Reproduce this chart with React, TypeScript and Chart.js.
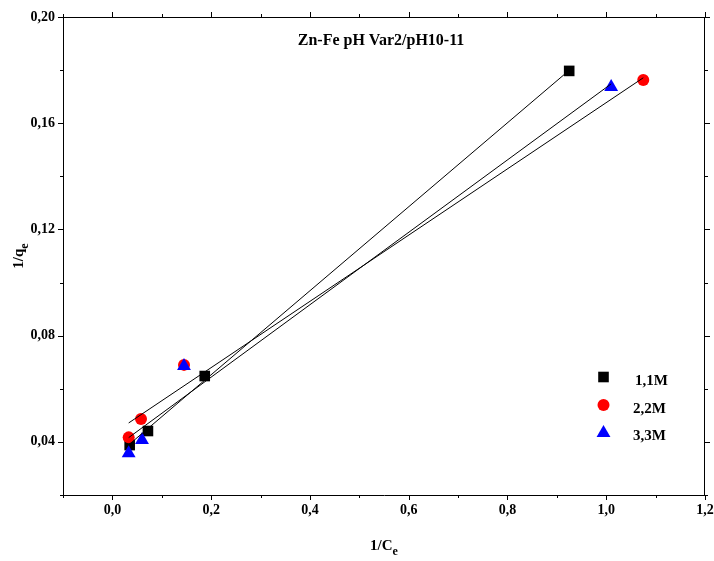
import React, { useEffect, useRef } from 'react';
import { Chart, registerables } from 'chart.js';

Chart.register(...registerables);

// Langmuir linearisation: 1/qe versus 1/Ce for three concentrations
const seriesNames = ['1,1M', '2,2M', '3,3M'];
const seriesColors = ['#000000', '#ff0000', '#0000ff'];
const seriesShapes = ['rect', 'circle', 'triangle'];

const invCe11 = [0.035, 0.072, 0.187, 0.925];
const invQe11 = [0.0388, 0.0441, 0.0648, 0.1797];
const invCe22 = [0.033, 0.058, 0.145, 1.075];
const invQe22 = [0.0417, 0.0486, 0.069, 0.1763];
const invCe33 = [0.033, 0.06, 0.145, 1.01];
const invQe33 = [0.0357, 0.0407, 0.0686, 0.1736];

const xMajorTicks = [0, 0.2, 0.4, 0.6, 0.8, 1.0, 1.2];
const xTickLabels = ['0,0', '0,2', '0,4', '0,6', '0,8', '1,0', '1,2'];
const yMajorTicks = [0.04, 0.08, 0.12, 0.16, 0.2];
const yTickLabels = ['0,04', '0,08', '0,12', '0,16', '0,20'];

const chartTitle = 'Zn-Fe pH Var2/pH10-11';
const FONT = '"Liberation Serif", "Times New Roman", serif';

function linearFit(xs: number[], ys: number[]) {
  const n = xs.length;
  const mx = xs.reduce((a, b) => a + b, 0) / n;
  const my = ys.reduce((a, b) => a + b, 0) / n;
  let sxx = 0;
  let sxy = 0;
  for (let i = 0; i < n; i++) {
    sxx += (xs[i] - mx) * (xs[i] - mx);
    sxy += (xs[i] - mx) * (ys[i] - my);
  }
  const slope = sxy / sxx;
  const icpt = my - slope * mx;
  const x0 = Math.min(...xs);
  const x1 = Math.max(...xs);
  return [
    { x: x0, y: icpt + slope * x0 },
    { x: x1, y: icpt + slope * x1 },
  ];
}

function labelFor(v: number, ticks: number[], labels: string[]) {
  const i = ticks.findIndex((t) => Math.abs(t - v) < 1e-6);
  return i >= 0 ? labels[i] : '';
}

function drawShape(ctx: CanvasRenderingContext2D, shape: string, x: number, y: number, r: number) {
  ctx.beginPath();
  if (shape === 'rect') {
    const s = Math.SQRT1_2 * r;
    ctx.rect(x - s, y - s, 2 * s, 2 * s);
  } else if (shape === 'circle') {
    ctx.arc(x, y, r, 0, Math.PI * 2);
  } else {
    let a = 0;
    ctx.moveTo(x + Math.sin(a) * r, y - Math.cos(a) * r);
    a += (2 * Math.PI) / 3;
    ctx.lineTo(x + Math.sin(a) * r, y - Math.cos(a) * r);
    a += (2 * Math.PI) / 3;
    ctx.lineTo(x + Math.sin(a) * r, y - Math.cos(a) * r);
    ctx.closePath();
  }
  ctx.fill();
}

const decorations = {
  id: 'decorations',
  afterDraw(chart: any) {
    const ctx: CanvasRenderingContext2D = chart.ctx;
    const { left, right, top, bottom } = chart.chartArea;
    const xs = chart.scales.x;
    const ys = chart.scales.y;
    ctx.save();
    ctx.strokeStyle = '#000';
    ctx.lineWidth = 1;

    // top and right frame lines
    ctx.beginPath();
    ctx.moveTo(left, top + 0.5);
    ctx.lineTo(right, top + 0.5);
    ctx.moveTo(right - 0.5, top);
    ctx.lineTo(right - 0.5, bottom);
    ctx.stroke();

    // major and minor tick marks on all four sides, pointing outward
    ctx.beginPath();
    for (let k = -1; k <= 12; k++) {
      const v = k / 10;
      const px = Math.round(xs.getPixelForValue(v)) + 0.5;
      const len = k % 2 === 0 ? 5 : 3;
      ctx.moveTo(px, bottom);
      ctx.lineTo(px, bottom + len);
      ctx.moveTo(px, top);
      ctx.lineTo(px, top - len);
    }
    for (let k = 2; k <= 20; k += 2) {
      const v = k / 100;
      const py = Math.round(ys.getPixelForValue(v)) + 0.5;
      const len = k % 4 === 0 ? 5 : 3;
      ctx.moveTo(left, py);
      ctx.lineTo(left - len, py);
      ctx.moveTo(right, py);
      ctx.lineTo(right + len, py);
    }
    ctx.stroke();

    ctx.fillStyle = '#000';

    // chart title inside the plot
    ctx.font = `bold 16px ${FONT}`;
    ctx.textAlign = 'center';
    ctx.textBaseline = 'alphabetic';
    ctx.fillText(chartTitle, 381, 45);

    // x axis title 1/Ce
    const xt = '1/C';
    ctx.font = `bold 15px ${FONT}`;
    const wMain = ctx.measureText(xt).width;
    ctx.font = `bold 12px ${FONT}`;
    const wSub = ctx.measureText('e').width;
    const cx = (left + right) / 2;
    const sx = cx - (wMain + wSub) / 2;
    ctx.textAlign = 'left';
    ctx.font = `bold 15px ${FONT}`;
    ctx.fillText(xt, sx, 550);
    ctx.font = `bold 12px ${FONT}`;
    ctx.fillText('e', sx + wMain, 555);

    // y axis title 1/qe, rotated
    ctx.save();
    ctx.translate(23, (top + bottom) / 2);
    ctx.rotate(-Math.PI / 2);
    const yt = '1/q';
    ctx.font = `bold 15px ${FONT}`;
    const wyMain = ctx.measureText(yt).width;
    ctx.font = `bold 12px ${FONT}`;
    const wySub = ctx.measureText('e').width;
    const sy = -(wyMain + wySub) / 2;
    ctx.font = `bold 15px ${FONT}`;
    ctx.fillText(yt, sy, 0);
    ctx.font = `bold 12px ${FONT}`;
    ctx.fillText('e', sy + wyMain, 5);
    ctx.restore();

    // legend
    const legendX = 603.5;
    const legendY = [377, 405, 432];
    const radii = [7.5, 6, 8];
    ctx.font = `bold 15px ${FONT}`;
    ctx.textBaseline = 'middle';
    ctx.textAlign = 'left';
    for (let i = 0; i < seriesNames.length; i++) {
      ctx.fillStyle = seriesColors[i];
      drawShape(ctx, seriesShapes[i], legendX, legendY[i] + (i === 2 ? 1 : 0), radii[i]);
      ctx.fillStyle = '#000';
      ctx.fillText(seriesNames[i], i === 0 ? 635 : 633, legendY[i] + 4);
    }
    ctx.restore();
  },
};

export default function App() {
  const canvasRef = useRef<HTMLCanvasElement | null>(null);

  useEffect(() => {
    if (!canvasRef.current) return;
    const toPts = (xs: number[], ys: number[]) => xs.map((x, i) => ({ x, y: ys[i] }));
    const pointSets = [
      toPts(invCe11, invQe11),
      toPts(invCe22, invQe22),
      toPts(invCe33, invQe33),
    ];
    const fits = [
      linearFit(invCe11, invQe11),
      linearFit(invCe22, invQe22),
      linearFit(invCe33, invQe33),
    ];
    const radii = [7.5, 6, 8];

    const datasets: any[] = [];
    fits.forEach((f, i) => {
      datasets.push({
        type: 'line',
        label: `fit ${seriesNames[i]}`,
        data: f,
        borderColor: '#000',
        borderWidth: 1,
        pointRadius: 0,
        fill: false,
        order: 0,
      });
    });
    // later series are painted over earlier ones (lower order = drawn on top)
    pointSets.forEach((p, i) => {
      datasets.push({
        type: 'scatter',
        label: seriesNames[i],
        data: p,
        backgroundColor: seriesColors[i],
        borderColor: seriesColors[i],
        borderWidth: 0,
        pointStyle: seriesShapes[i],
        pointRadius: radii[i],
        order: 3 - i,
      });
    });

    const chart = new Chart(canvasRef.current, {
      type: 'scatter',
      data: { datasets },
      options: {
        animation: false,
        responsive: false,
        devicePixelRatio: 1,
        layout: { padding: { left: 8, top: 17, right: 9, bottom: 0 } },
        plugins: {
          legend: { display: false },
          tooltip: { enabled: false },
        },
        scales: {
          x: {
            type: 'linear',
            min: -0.1,
            max: 1.2,
            grid: { display: false, drawTicks: false },
            border: { display: true, color: '#000', width: 1 },
            afterFit: (s: any) => {
              s.height = 66;
              s.paddingLeft = 0;
              s.paddingRight = 0;
            },
            ticks: {
              stepSize: 0.1,
              autoSkip: false,
              maxRotation: 0,
              padding: 7,
              color: '#000',
              font: { family: FONT, size: 14, weight: 'bold' },
              callback: (v: any) => labelFor(Number(v), xMajorTicks, xTickLabels),
            },
          },
          y: {
            type: 'linear',
            min: 0.02,
            max: 0.2,
            grid: { display: false, drawTicks: false },
            border: { display: true, color: '#000', width: 1 },
            afterFit: (s: any) => {
              s.width = 55;
              s.paddingTop = 0;
              s.paddingBottom = 0;
            },
            ticks: {
              stepSize: 0.02,
              autoSkip: false,
              padding: 8,
              color: '#000',
              font: { family: FONT, size: 14, weight: 'bold' },
              callback: (v: any) => labelFor(Number(v), yMajorTicks, yTickLabels),
            },
          },
        },
      },
      plugins: [decorations],
    });
    return () => chart.destroy();
  }, []);

  return (
    <div style={{ position: 'fixed', left: 0, top: 0, width: 714, height: 561, background: '#fff' }}>
      <canvas ref={canvasRef} width={714} height={561} style={{ display: 'block', width: 714, height: 561 }} />
    </div>
  );
}
